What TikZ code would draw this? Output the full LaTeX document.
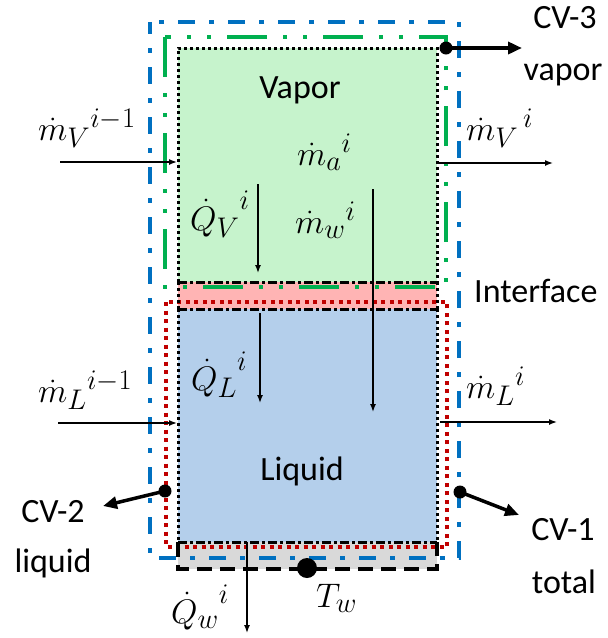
\RequirePackage{fix-cm}
\documentclass[tikz,border=0pt]{standalone}
\usepackage[no-math]{fontspec}
\setmainfont{Carlito}
\usetikzlibrary{arrows.meta}
\definecolor{cvblue}{RGB}{0,112,192}
\definecolor{cvgreen}{RGB}{0,176,80}
\definecolor{cvred}{RGB}{192,0,0}
\definecolor{vapfill}{RGB}{198,243,204}
\definecolor{intfill}{RGB}{255,180,180}
\definecolor{liqfill}{RGB}{180,207,235}
\definecolor{wallfill}{RGB}{217,217,217}
\newcommand\mlab[1]{\scalebox{1.37}{\fontsize{24.88}{30}\selectfont$#1$}}
\begin{document}
\begin{tikzpicture}[x=1pt,y=-1pt,
  lbl/.style={font=\fontsize{34}{40}\selectfont, inner sep=0pt, anchor=base},
  mlbl/.style={inner sep=0pt, anchor=base west},
  flow/.style={line width=1.4pt, -{Latex[length=8pt,width=6pt]}},
  cvarrow/.style={line width=3.5pt, -{Triangle[length=14pt,width=12pt]}},
  cvdot/.style={circle, fill=black, inner sep=0pt, minimum size=13pt},
  bluecv/.style={draw=cvblue, line width=4pt, dash pattern=on 17pt off 14pt on 5pt off 14pt, dash phase=5pt},
  greencv/.style={draw=cvgreen, line width=4pt, dash pattern=on 40pt off 16pt on 4pt off 16pt on 4pt off 16pt},
  redcv/.style={draw=cvred, line width=4pt, dash pattern=on 4pt off 4.5pt},
  blackdot/.style={draw=black, line width=3pt, dash pattern=on 3pt off 3pt},
  blackdashdot/.style={draw=black, line width=3pt, dash pattern=on 9pt off 3pt on 3pt off 3pt},
  blackdash/.style={draw=black, line width=4pt, dash pattern=on 15pt off 8pt},
]
\useasboundingbox (0,0) rectangle (608,638);
% fills
\fill[vapfill] (178,48) rectangle (437,282);
\fill[intfill] (178,282) rectangle (437,309);
\fill[liqfill] (178,309) rectangle (437,542);
\fill[wallfill] (178,542) rectangle (437,569);
% control volumes
\draw[bluecv] (150,22) rectangle (459,558);
\draw[greencv] (165,37) rectangle (446,287);
\draw[redcv] (166,302) rectangle (447,547);
% region borders
\draw[blackdot] (178,282) -- (178,48) -- (437,48) -- (437,282);
\draw[blackdashdot] (178,282) -- (437,282);
\draw[blackdot] (178,282) -- (178,309);
\draw[blackdot] (437,282) -- (437,309);
\draw[blackdot] (178,309) -- (178,542);
\draw[blackdot] (437,309) -- (437,542);
\draw[blackdashdot] (178,309) -- (437,309);
\draw[blackdashdot] (178,542) -- (437,542);
\draw[blackdash] (178,542) -- (178,569) -- (437,569) -- (437,542);
% texts
\node[lbl] (vapor) at (300,98) {Vapor};
\node[lbl] (liquid) at (302,480) {Liquid};
\node[lbl, anchor=base west] (interface) at (474,302) {Interface};
\node[lbl] (cv3) at (565,28) {CV-3};
\node[lbl] (cv3b) at (563,80) {vapor};
\node[lbl] (cv2) at (53,522) {CV-2};
\node[lbl] (cv2b) at (53,572) {liquid};
\node[lbl] (cv1) at (563,540) {CV-1};
\node[lbl] (cv1b) at (564,593) {total};
% math labels
\node[mlbl] (mvin) at (38,140) {\mlab{{\dot m_V{}}^{i-1}}};
\node[mlbl] (mvout) at (466,140) {\mlab{{\dot m_V{}}^{\,i}}};
\node[mlbl] (ma) at (297,165) {\mlab{{\dot m_a{}}^{i}}};
\node[mlbl] (qv) at (190,230) {\mlab{{\dot Q_V{}}^{i}}};
\node[mlbl] (mw) at (295,233) {\mlab{{\dot m_w{}}^{i}}};
\node[mlbl] (ql) at (191,390) {\mlab{{\dot Q_L{}}^{i}}};
\node[mlbl] (mlin) at (38,402) {\mlab{{\dot m_L{}}^{i-1}}};
\node[mlbl] (mlout) at (466,398) {\mlab{{\dot m_L{}}^{i}}};
\node[mlbl] (tw) at (316,607) {\mlab{T_w}};
\node[mlbl] (qw) at (171,623) {\mlab{{\dot Q_w{}}^{i}}};
% flow arrows
\coordinate (mvinA) at (60,162);   \coordinate (mvinB) at (177,162);
\coordinate (mvoutA) at (437,163); \coordinate (mvoutB) at (553,163);
\coordinate (mlinA) at (58,423);   \coordinate (mlinB) at (177,423);
\coordinate (mloutA) at (440,422); \coordinate (mloutB) at (557,422);
\coordinate (qvA) at (258,184);    \coordinate (qvB) at (258,273);
\coordinate (mwA) at (373,189);    \coordinate (mwB) at (373,412);
\coordinate (qlA) at (260,313);    \coordinate (qlB) at (260,403);
\coordinate (qwA) at (247,542);    \coordinate (qwB) at (247,633);
\draw[flow] (mvinA) -- (mvinB);
\draw[flow] (mvoutA) -- (mvoutB);
\draw[flow] (mlinA) -- (mlinB);
\draw[flow] (mloutA) -- (mloutB);
\draw[flow] (qvA) -- (qvB);
\draw[flow] (mwA) -- (mwB);
\draw[flow] (qlA) -- (qlB);
\draw[flow] (qwA) -- (qwB);
% CV pointers
\node[cvdot] (d3) at (446,48) {};
\node[cvdot] (d2) at (165,491) {};
\node[cvdot] (d1) at (460,492) {};
\node[cvdot, minimum size=20pt] (dw) at (307,568) {};
\coordinate (d3e) at (522,48);
\coordinate (d2e) at (103,506);
\coordinate (d1e) at (519,515);
\draw[cvarrow] (d3.center) -- (d3e);
\draw[cvarrow] (d2.center) -- (d2e);
\draw[cvarrow] (d1.center) -- (d1e);
\end{tikzpicture}
\end{document}
